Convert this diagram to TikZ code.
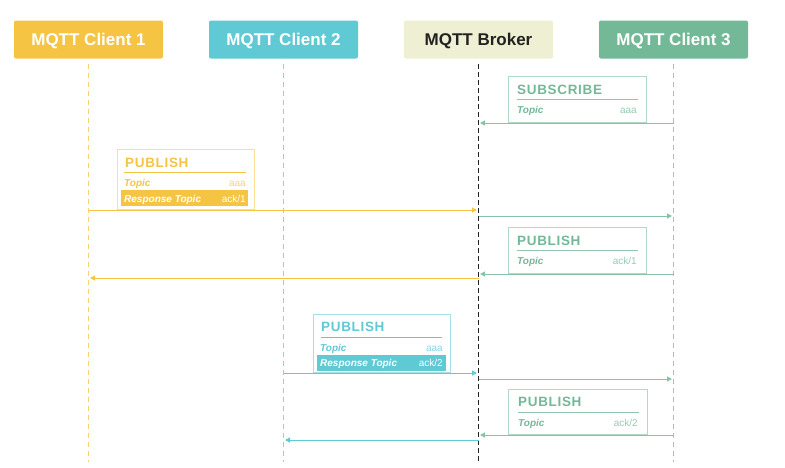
\documentclass[tikz,border=0pt]{standalone}
\usepackage{fontspec}
\setmainfont{Liberation Sans}
\usetikzlibrary{arrows.meta,positioning}
\definecolor{yel}{HTML}{F5C442}
\definecolor{cyn}{HTML}{5FC9D4}
\definecolor{grn}{HTML}{73B897}
\definecolor{brk}{HTML}{EFEFD3}
\definecolor{ink}{HTML}{222222}

\begin{document}
\begin{tikzpicture}[x=1pt,y=-1pt,
  head/.style={fill=#1,rounded corners=2pt,minimum width=149pt,minimum height=38pt,
    text height=12.2pt,text depth=0pt,text=white,font=\bfseries\fontsize{17}{17}\selectfont},
  life/.style={draw=#1,dash pattern=on 5pt off 4pt,line width=0.9pt,shorten <=5pt},
  msg/.style={draw=#1,line width=1pt,shorten >=1.5pt,-{Triangle[length=5pt,width=5pt]}},
  box/.style={draw=#1!55,line width=1pt,anchor=north west,inner sep=0pt},
  ttl/.style={text=#1,anchor=base west,inner sep=0pt,
    font=\bfseries\fontsize{13.5}{13.5}\selectfont\addfontfeatures{LetterSpace=5}},
  key/.style={text=#1,anchor=base west,inner sep=0pt,font=\bfseries\itshape\fontsize{10}{10}\selectfont},
  val/.style={text=#1,anchor=base east,inner sep=0pt,font=\fontsize{10}{10}\selectfont}]
  \useasboundingbox (0,0) rectangle (785,467);

  % participants
  \node[head=yel] (c1) at (88.5,39.5) {MQTT Client 1};
  \node[head=cyn] (c2) at (283.5,39.5) {MQTT Client 2};
  \node[head=brk,text=ink] (br) at (478.5,39.5) {MQTT Broker};
  \node[head=grn] (c3) at (673.5,39.5) {MQTT Client 3};

  \coordinate (end) at (0,462);
  \draw[life=yel!75] (c1.south) -- (c1 |- end);
  \draw[life=cyn!75] (c2.south) -- (c2 |- end);
  \draw[life=ink,dash pattern=on 5pt off 3pt] (br.south) -- (br |- end);
  \draw[life=grn!75] (c3.south) -- (c3 |- end);

  % subscribe
  \node[box=grn,minimum width=138pt,minimum height=46pt] (sub) at (508,76) {};
  \node[ttl=grn] (subt) at (517,94) {SUBSCRIBE};
  \draw[grn!80,line width=0.8pt] (517,99) -- (638,99);
  \node[key=grn] (subk) at (517,113) {Topic};
  \node[val=grn!75] (subv) at (637,113) {aaa};
  \draw[msg=grn!85] (c3 |- sub.south) -- (br |- sub.south);

  % publish from client 1
  \node[box=yel,minimum width=137pt,minimum height=60pt] (pub1) at (117,149) {};
  \node[ttl=yel] (pub1t) at (125,167) {PUBLISH};
  \draw[yel,line width=0.8pt] (124,172) -- (246,172);
  \node[key=yel] (pub1k) at (124,186) {Topic};
  \node[val=yel!75] (pub1v) at (246,186) {aaa};
  \fill[yel] (121,190) rectangle (248,206);
  \node[key=white] (pub1r) at (124,202) {Response Topic};
  \node[val=white] (pub1a) at (246,202) {ack/1};
  \draw[msg=yel] (c1 |- pub1.south) -- (br |- pub1.south);

  \coordinate (r1) at (0,216);
  \draw[msg=grn!85] (br |- r1) -- (c3 |- r1);

  % reply ack/1
  \node[box=grn,minimum width=138pt,minimum height=46pt] (ack1) at (508,227) {};
  \node[ttl=grn] (ack1t) at (517,245.5) {PUBLISH};
  \draw[grn!80,line width=0.8pt] (517,250.5) -- (638,250.5);
  \node[key=grn] (ack1k) at (517,264) {Topic};
  \node[val=grn!75] (ack1v) at (637,264) {ack/1};
  \draw[msg=grn!85] (c3 |- ack1.south) -- (br |- ack1.south);

  \coordinate (r2) at (0,278);
  \draw[msg=yel] (br |- r2) -- (c1 |- r2);

  % publish from client 2
  \node[box=cyn,minimum width=137pt,minimum height=58pt] (pub2) at (313,314) {};
  \node[ttl=cyn] (pub2t) at (321,331.5) {PUBLISH};
  \draw[cyn,line width=0.8pt] (321,337) -- (442,337);
  \node[key=cyn] (pub2k) at (320,351) {Topic};
  \node[val=cyn!75] (pub2v) at (443,351) {aaa};
  \fill[cyn] (317,354.5) rectangle (446,371);
  \node[key=white] (pub2r) at (320,366) {Response Topic};
  \node[val=white] (pub2a) at (443,366) {ack/2};
  \draw[msg=cyn] (c2 |- pub2.south) -- (br |- pub2.south);

  \coordinate (r3) at (0,379);
  \draw[msg=grn!85] (br |- r3) -- (c3 |- r3);

  % reply ack/2
  \node[box=grn,minimum width=139pt,minimum height=45pt] (ack2) at (508,389) {};
  \node[ttl=grn] (ack2t) at (518,406.5) {PUBLISH};
  \draw[grn!80,line width=0.8pt] (518,412) -- (639,412);
  \node[key=grn] (ack2k) at (518,426) {Topic};
  \node[val=grn!75] (ack2v) at (638,426) {ack/2};
  \draw[msg=grn!85] (c3 |- ack2.south) -- (br |- ack2.south);

  \coordinate (r4) at (0,440);
  \draw[msg=cyn] (br |- r4) -- (c2 |- r4);
\end{tikzpicture}
\end{document}
